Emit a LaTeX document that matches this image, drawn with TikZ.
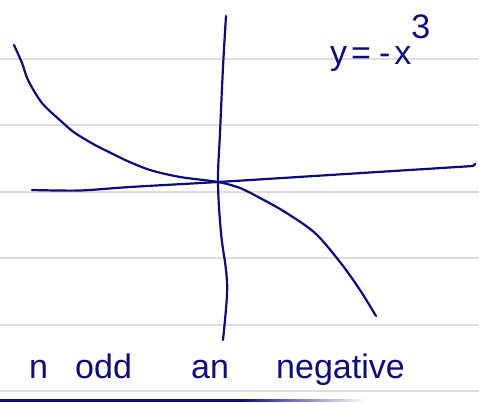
\documentclass[tikz,border=0pt]{standalone}
\usepackage{fontspec}
\setmainfont{Liberation Sans}
\definecolor{ink}{RGB}{12,12,128}
\definecolor{rule}{RGB}{222,222,222}
\begin{document}
\begin{tikzpicture}[x=1pt,y=-1pt,
  stroke/.style={draw=ink,line width=2.2pt,line cap=round,line join=round},
  ruleline/.style={draw=rule,line width=1.2pt},
  hand/.style={text=ink,font=\fontsize{34}{34}\selectfont,inner sep=0pt,anchor=base west}]
\useasboundingbox (0,0) rectangle (479,402);
\fill[white] (0,0) rectangle (479,402);
% ruled paper
\foreach \yy in {59,125,192,258,325,391} \draw[ruleline] (0,\yy) -- (479,\yy);
% bottom dark rule, fading out to the right
\fill[ink] (0,398.5) rectangle (240,402);
\foreach \i in {0,...,49} {
  \pgfmathsetmacro{\pc}{100-2*\i}
  \fill[ink!\pc!white] ({240+2.5*\i},398.5) rectangle ({240+2.5*(\i+1)+0.3},402);
}
% origin
\coordinate (O) at (218,182);
% vertical axis
\draw[stroke] plot[smooth,tension=0.6] coordinates {(226,16) (223,67) (220,133) (O) (221,233) (226,270) (227,295) (223,340)};
% horizontal axis
\draw[stroke] plot[smooth,tension=0.5] coordinates {(32,190) (80,190.5) (130,187) (O) (330,175) (473,166)} -- (475,164);
% curve y=-x^3
\draw[stroke] plot[smooth,tension=0.5] coordinates {(14,45) (22,63) (28,80) (42,103) (62,122) (75,133) (95,145) (115,155) (125,160) (150,170) (180,177) (O) (240,188) (260,198) (285,212) (315,233) (340,262) (360,290) (376,316)};
% labels
\node[hand] (eq) at (330,64) {y\hspace{4pt}=\hspace{8pt}-\hspace{4pt}x\raisebox{26pt}{3}};
\node[hand] (n) at (29,378) {n};
\node[hand] (odd) at (75,378) {odd};
\node[hand] (an) at (191,378) {an};
\node[hand] (neg) at (276,378) {negative};
\end{tikzpicture}
\end{document}
